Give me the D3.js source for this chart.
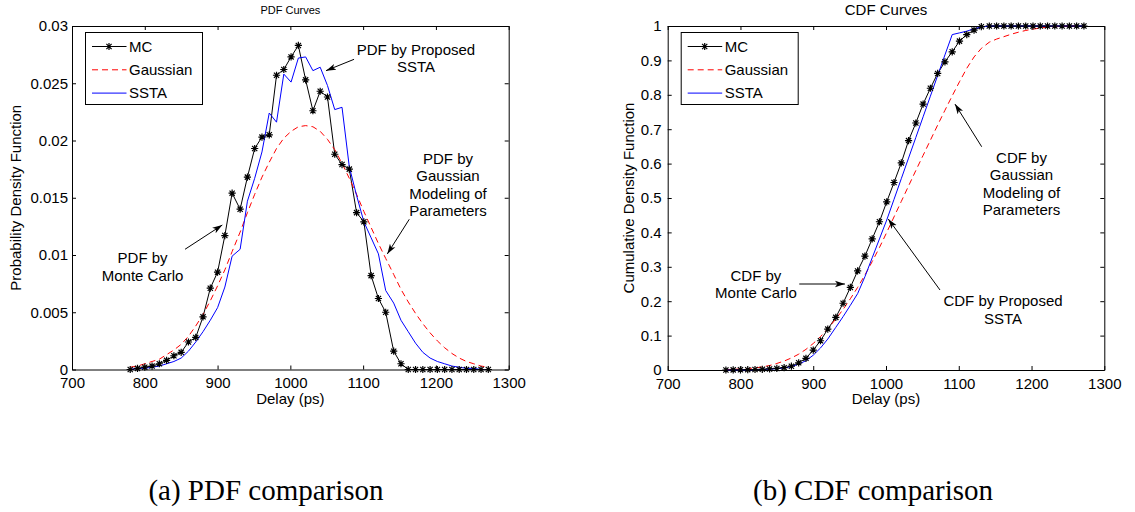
<!DOCTYPE html>
<html lang="en">
<head>
  <meta charset="UTF-8">
  <title>PDF and CDF Curves</title>
  <script src="https://d3js.org/d3.v7.min.js"></script>
  <style>
    body {
      margin: 0;
      background: #fff;
    }

    #chart {
      display: block;
    }

    .axis text {
      font-family: "Liberation Sans", Arial, sans-serif;
      font-size: 15px;
      fill: #000;
    }

    .axis path, .axis line {
      stroke: #000;
      stroke-width: 1px;
    }

    .label {
      font-family: "Liberation Sans", Arial, sans-serif;
      font-size: 15px;
      fill: #000;
    }

    .caption {
      font-family: "Liberation Serif", "Times New Roman", serif;
      font-size: 29px;
      fill: #000;
    }
  </style>
</head>
<body>

<div id="chart"></div>

<script>
  // delay bins (ps), shared by every curve
  const delays = [780, 790, 800, 810, 820, 830, 840, 850, 860, 870,
                  880, 890, 900, 910, 920, 931, 941, 951, 961, 971,
                  981, 991, 1001, 1011, 1021, 1031, 1041, 1051, 1061, 1071,
                  1081, 1091, 1101, 1111, 1121, 1131, 1142, 1152, 1162, 1172,
                  1182, 1192, 1202, 1212, 1222, 1232, 1242, 1252, 1262, 1272];

  const pdfMC = [0, 0.0001, 0.0002, 0.0003, 0.0005, 0.0008, 0.0012, 0.0015, 0.0024, 0.0028,
                 0.0046, 0.0071, 0.0085, 0.0117, 0.0154, 0.0140, 0.0168, 0.0193, 0.0203, 0.0205,
                 0.0257, 0.0262, 0.0273, 0.0283, 0.0253, 0.0226, 0.0243, 0.0238, 0.0188, 0.0179,
                 0.0175, 0.0137, 0.0129, 0.0082, 0.0062, 0.0050, 0.0016, 0.0005, 0, 0,
                 0, 0, 0, 0, 0, 0, 0, 0, 0, 0];

  const pdfGauss = [0.0002, 0.0003, 0.0005, 0.0007, 0.0009, 0.0013, 0.0017, 0.0022, 0.0029, 0.0038,
                    0.0048, 0.0060, 0.0073, 0.0087, 0.0103, 0.0120, 0.0137, 0.0153, 0.0168, 0.0181,
                    0.0193, 0.0202, 0.0208, 0.0212, 0.0213, 0.0212, 0.0208, 0.0201, 0.0192, 0.0180,
                    0.0167, 0.0153, 0.0138, 0.0124, 0.0110, 0.0097, 0.0083, 0.0070, 0.0059, 0.0049,
                    0.0040, 0.0032, 0.0025, 0.0019, 0.0014, 0.0010, 0.0007, 0.0005, 0.0003, 0.0002];

  const pdfSSTA = [0, 0.0001, 0.0001, 0.0002, 0.0003, 0.0005, 0.0007, 0.0010, 0.0016, 0.0024,
                   0.0033, 0.0043, 0.0054, 0.0072, 0.0099, 0.0105, 0.0147, 0.0167, 0.0190, 0.0224,
                   0.0216, 0.0258, 0.0251, 0.0272, 0.0273, 0.0261, 0.0264, 0.0248, 0.0227, 0.0229,
                   0.0177, 0.0152, 0.0129, 0.0115, 0.0101, 0.0069, 0.0058, 0.0043, 0.0033, 0.0023,
                   0.0015, 0.0010, 0.0007, 0.0005, 0.0003, 0.0002, 0.0001, 0.0001, 0, 0];

  const cdfMC = [0, 0.0003, 0.0006, 0.001, 0.0015, 0.002, 0.003, 0.0045, 0.0068, 0.011,
                 0.021, 0.034, 0.058, 0.085, 0.119, 0.153, 0.194, 0.240, 0.288, 0.331,
                 0.381, 0.431, 0.489, 0.545, 0.602, 0.667, 0.718, 0.773, 0.819, 0.862,
                 0.896, 0.925, 0.956, 0.975, 0.988, 0.998, 1, 1, 1, 1,
                 1, 1, 1, 1, 1, 1, 1, 1, 1, 1];

  const cdfGauss = [0.001, 0.002, 0.003, 0.004, 0.006, 0.009, 0.013, 0.019, 0.026, 0.035,
                    0.046, 0.060, 0.077, 0.097, 0.120, 0.148, 0.176, 0.207, 0.240, 0.276,
                    0.315, 0.356, 0.400, 0.445, 0.490, 0.535, 0.580, 0.624, 0.668, 0.712,
                    0.755, 0.797, 0.838, 0.877, 0.910, 0.935, 0.953, 0.962, 0.969, 0.976,
                    0.982, 0.987, 0.991, 0.994, 0.997, 0.998, 0.999, 1, 1, 1];

  const cdfSSTA = [0, 0.0001, 0.0002, 0.0005, 0.001, 0.0015, 0.0025, 0.004, 0.006, 0.010,
                   0.017, 0.027, 0.043, 0.064, 0.090, 0.124, 0.155, 0.188, 0.222, 0.271,
                   0.326, 0.381, 0.436, 0.496, 0.556, 0.616, 0.676, 0.736, 0.796, 0.856,
                   0.916, 0.975, 0.980, 0.985, 0.992, 0.997, 1, 1, 1, 1,
                   1, 1, 1, 1, 1, 1, 1, 1, 1, 1];

  const seriesNames = ["MC", "Gaussian", "SSTA"];

  const xTicks = [700, 800, 900, 1000, 1100, 1200, 1300];
  const pdfTicks = [0, 0.005, 0.01, 0.015, 0.02, 0.025, 0.03];
  const pdfTickLabels = ["0", "0.005", "0.01", "0.015", "0.02", "0.025", "0.03"];
  const cdfTicks = [0, 0.1, 0.2, 0.3, 0.4, 0.5, 0.6, 0.7, 0.8, 0.9, 1];
  const cdfTickLabels = ["0", "0.1", "0.2", "0.3", "0.4", "0.5", "0.6", "0.7", "0.8", "0.9", "1"];

  const svg = d3.select("#chart")
                .append("svg")
                .attr("width", 1135)
                .attr("height", 512);

  svg.append("rect").attr("width", 1135).attr("height", 512).attr("fill", "#fff");

  // arrow head for the annotations
  svg.append("defs").append("marker")
     .attr("id", "arrow")
     .attr("viewBox", "-10 -5 11 10")
     .attr("refX", 0)
     .attr("refY", 0)
     .attr("markerWidth", 11)
     .attr("markerHeight", 10)
     .attr("markerUnits", "userSpaceOnUse")
     .attr("orient", "auto")
     .append("path")
     .attr("d", "M-10,-3.2L0,0L-10,3.2L-7.5,0Z")
     .attr("fill", "#000");

  // MATLAB style '*' marker
  const starPath = "M-3.6,0H3.6M0,-3.6V3.6M-2.6,-2.6L2.6,2.6M-2.6,2.6L2.6,-2.6";

  const styles = {
    MC: {stroke: "#000", dash: null},
    Gaussian: {stroke: "#ff0000", dash: "6,4"},
    SSTA: {stroke: "#0000ff", dash: null}
  };

  function drawPanel(p) {
    const x = d3.scaleLinear().domain([700, 1300]).range([p.left, p.right]);
    const y = d3.scaleLinear().domain(p.yDomain).range([p.bottom, p.top]);

    // axes on all four sides, ticks pointing inwards
    svg.append("g")
       .attr("class", "axis")
       .attr("transform", `translate(0,${p.bottom})`)
       .call(d3.axisBottom(x).tickValues(xTicks).tickSizeInner(-4).tickSizeOuter(0).tickPadding(8).tickFormat(d3.format("d")));

    svg.append("g")
       .attr("class", "axis")
       .attr("transform", `translate(0,${p.top})`)
       .call(d3.axisTop(x).tickValues(xTicks).tickSizeInner(-4).tickSizeOuter(0).tickFormat(""));

    svg.append("g")
       .attr("class", "axis")
       .attr("transform", `translate(${p.left},0)`)
       .call(d3.axisLeft(y).tickValues(p.yTicks).tickSizeInner(-4).tickSizeOuter(0).tickPadding(p.yPad)
               .tickFormat((d, i) => p.yLabels[i]));

    svg.append("g")
       .attr("class", "axis")
       .attr("transform", `translate(${p.right},0)`)
       .call(d3.axisRight(y).tickValues(p.yTicks).tickSizeInner(-4).tickSizeOuter(0).tickFormat(""));

    svg.selectAll(".axis text").attr("font-family", null).attr("font-size", null);

    // curves
    const line = d3.line().x(d => x(d[0])).y(d => y(d[1]));
    const series = [p.mc, p.gauss, p.ssta];

    series.forEach((vals, k) => {
      const st = styles[seriesNames[k]];
      svg.append("path")
         .datum(delays.map((d, i) => [d, vals[i]]))
         .attr("fill", "none")
         .attr("stroke", st.stroke)
         .attr("stroke-width", 1)
         .attr("stroke-dasharray", st.dash)
         .attr("d", line);
    });

    svg.selectAll(null)
       .data(delays.map((d, i) => [d, p.mc[i]]))
       .enter()
       .append("path")
       .attr("transform", d => `translate(${x(d[0])},${y(d[1])})`)
       .attr("d", starPath)
       .attr("stroke", "#000")
       .attr("stroke-width", 1.2)
       .attr("fill", "none");

    // title and axis labels
    svg.append("text")
       .attr("class", "label")
       .attr("x", (p.left + p.right) / 2)
       .attr("y", p.titleY)
       .attr("text-anchor", "middle")
       .style("font-size", p.titleSize + "px")
       .text(p.title);

    svg.append("text")
       .attr("class", "label")
       .attr("x", (p.left + p.right) / 2)
       .attr("y", 404)
       .attr("text-anchor", "middle")
       .text("Delay (ps)");

    svg.append("text")
       .attr("class", "label")
       .attr("transform", `translate(${p.yLabelX},${(p.top + p.bottom) / 2}) rotate(-90)`)
       .attr("text-anchor", "middle")
       .text(p.yLabel);

    // annotations, anchored in data units
    p.notes.forEach(n => {
      svg.append("line")
         .attr("x1", x(n.from[0])).attr("y1", y(n.from[1]))
         .attr("x2", x(n.to[0])).attr("y2", y(n.to[1]))
         .attr("stroke", "#000")
         .attr("stroke-width", 1)
         .attr("marker-end", "url(#arrow)");

      n.lines.forEach((t, j) => {
        svg.append("text")
           .attr("class", "label")
           .attr("x", x(n.at[0]))
           .attr("y", y(n.at[1]) + j * 17.5)
           .attr("text-anchor", "middle")
           .text(t);
      });
    });

    // legend
    const lg = svg.append("g").attr("transform", `translate(${p.left + 13.5},${p.top + 6.5})`);
    lg.append("rect")
      .attr("width", 117)
      .attr("height", 72)
      .attr("fill", "#fff")
      .attr("stroke", "#000")
      .attr("stroke-width", 1);

    seriesNames.forEach((name, k) => {
      const st = styles[name];
      const ly = 14 + k * 23.3;
      lg.append("line")
        .attr("x1", 6.5).attr("x2", 41)
        .attr("y1", ly).attr("y2", ly)
        .attr("stroke", st.stroke)
        .attr("stroke-width", 1)
        .attr("stroke-dasharray", st.dash);
      if (name === "MC") {
        lg.append("path")
          .attr("transform", `translate(23.5,${ly})`)
          .attr("d", starPath)
          .attr("stroke", "#000")
          .attr("stroke-width", 1.2);
      }
      lg.append("text")
        .attr("class", "label")
        .attr("x", 43.5)
        .attr("y", ly)
        .attr("dy", "0.35em")
        .text(name);
    });
  }

  drawPanel({
    left: 72, right: 508.7, top: 26, bottom: 369.5,
    yDomain: [0, 0.03], yTicks: pdfTicks, yLabels: pdfTickLabels, yPad: 4,
    mc: pdfMC, gauss: pdfGauss, ssta: pdfSSTA,
    title: "PDF Curves", titleSize: 11, titleY: 14,
    yLabel: "Probability Density Function", yLabelX: 21,
    notes: [
      {lines: ["PDF by Proposed", "SSTA"], at: [1172.6, 0.02747], from: [1087.5, 0.02709], to: [1049, 0.0261]},
      {lines: ["PDF by", "Gaussian", "Modeling of", "Parameters"], at: [1216.6, 0.01799], from: [1163.4, 0.01312], to: [1133.2, 0.01009]},
      {lines: ["PDF by", "Monte Carlo"], at: [797, 0.00928], from: [855.3, 0.0105], to: [906.5, 0.01262]}
    ]
  });

  drawPanel({
    left: 667.7, right: 1104.3, top: 26, bottom: 370,
    yDomain: [0, 1], yTicks: cdfTicks, yLabels: cdfTickLabels, yPad: 6,
    mc: cdfMC, gauss: cdfGauss, ssta: cdfSSTA,
    title: "CDF Curves", titleSize: 15, titleY: 15,
    yLabel: "Cumulative Density Function", yLabelX: 634,
    notes: [
      {lines: ["CDF by", "Gaussian", "Modeling of", "Parameters"], at: [1186.2, 0.603], from: [1131.5, 0.649], to: [1094.8, 0.773]},
      {lines: ["CDF by Proposed", "SSTA"], at: [1160.8, 0.185], from: [1074.2, 0.2326], to: [1003.1, 0.439]},
      {lines: ["CDF by", "Monte Carlo"], at: [821.3, 0.259], from: [880.8, 0.25], to: [943.6, 0.25]}
    ]
  });

  // sub-figure captions
  svg.append("text")
     .attr("class", "caption")
     .attr("x", 266)
     .attr("y", 500)
     .attr("text-anchor", "middle")
     .text("(a) PDF comparison");

  svg.append("text")
     .attr("class", "caption")
     .attr("x", 873)
     .attr("y", 500)
     .attr("text-anchor", "middle")
     .text("(b) CDF comparison");
</script>
</body>
</html>
